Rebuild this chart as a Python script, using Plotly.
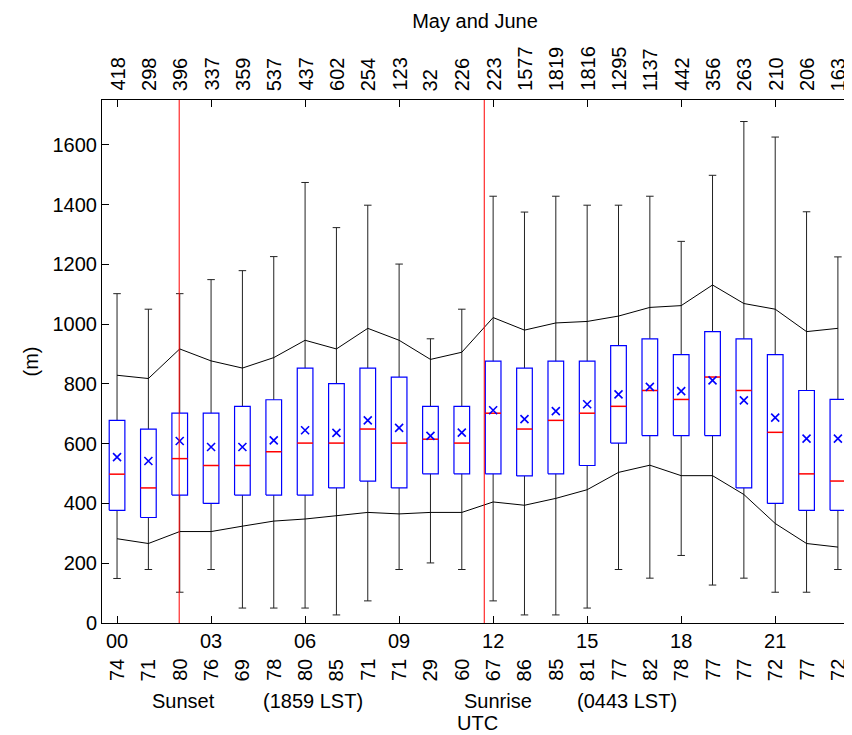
import plotly.graph_objects as go

hours = list(range(24))
q1 = [377, 353, 428, 400, 428, 428, 428, 452, 475, 452, 499, 499, 499, 492, 499, 527, 602, 627, 627, 627, 452, 400, 377, 377]
median = [498, 452, 550, 527, 527, 573, 602, 602, 649, 602, 615, 602, 702, 649, 678, 702, 725, 778, 748, 823, 778, 638, 499, 475]
q3 = [678, 649, 702, 702, 725, 747, 853, 801, 853, 823, 725, 725, 876, 853, 876, 876, 928, 951, 898, 975, 951, 898, 778, 748]
means = [555, 542, 609, 589, 589, 611, 645, 636, 678, 653, 626, 637, 712, 682, 709, 732, 765, 790, 776, 812, 745, 687, 617, 617]
whisk_lo = [149, 179, 103, 179, 50, 50, 50, 27, 74, 179, 201, 179, 74, 27, 27, 50, 179, 150, 226, 127, 150, 103, 103, 179]
whisk_hi = [1102, 1050, 1102, 1149, 1179, 1226, 1474, 1323, 1398, 1201, 951, 1050, 1428, 1375, 1428, 1398, 1398, 1428, 1277, 1498, 1678, 1626, 1376, 1225]
upper_line = [829, 818, 917, 877, 853, 888, 946, 917, 986, 946, 882, 906, 1022, 980, 1004, 1009, 1027, 1056, 1062, 1131, 1069, 1050, 975, 986]
lower_line = [282, 266, 306, 306, 324, 341, 348, 358, 370, 365, 370, 370, 405, 394, 417, 446, 504, 528, 493, 493, 430, 333, 266, 254]
top_counts = [418, 298, 396, 337, 359, 537, 437, 602, 254, 123, 32, 226, 223, 1577, 1819, 1816, 1295, 1137, 442, 356, 263, 210, 206, 163]
bottom_counts = [74, 71, 80, 76, 69, 78, 80, 85, 71, 71, 29, 60, 67, 86, 85, 81, 77, 82, 78, 77, 77, 72, 77, 72]
tick_hours = [0, 3, 6, 9, 12, 15, 18, 21]
tick_labels = ["00", "03", "06", "09", "12", "15", "18", "21"]
y_ticks = [0, 200, 400, 600, 800, 1000, 1200, 1400, 1600]
utc_offset = 7
sunset_lst = 18 + 59 / 60
sunrise_lst = 4 + 43 / 60
event_lines = [(sunset_lst + utc_offset) % 24, (sunrise_lst + utc_offset) % 24]

FONT = "Liberation Sans, Arial, Helvetica, sans-serif"
BW = 0.25   # half box width
CW = 0.12   # half cap width

fig = go.Figure()

# whiskers
wx, wy = [], []
for h, lo, a, b, hi in zip(hours, whisk_lo, q1, q3, whisk_hi):
    wx += [h, h, None, h, h, None, h - CW, h + CW, None, h - CW, h + CW, None]
    wy += [lo, a, None, b, hi, None, lo, lo, None, hi, hi, None]
fig.add_trace(go.Scatter(x=wx, y=wy, mode="lines", line=dict(color="#222222", width=1),
                         hoverinfo="skip", showlegend=False))

# upper / lower lines
fig.add_trace(go.Scatter(x=hours, y=upper_line, mode="lines", line=dict(color="black", width=1),
                         showlegend=False))
fig.add_trace(go.Scatter(x=hours, y=lower_line, mode="lines", line=dict(color="black", width=1),
                         showlegend=False))

# boxes
bx, by = [], []
for h, a, b in zip(hours, q1, q3):
    bx += [h - BW, h + BW, h + BW, h - BW, h - BW, None]
    by += [a, a, b, b, a, None]
fig.add_trace(go.Scatter(x=bx, y=by, mode="lines", line=dict(color="#0000ff", width=1.2),
                         hoverinfo="skip", showlegend=False))

# medians
mx, my = [], []
for h, m in zip(hours, median):
    mx += [h - BW, h + BW, None]
    my += [m, m, None]
fig.add_trace(go.Scatter(x=mx, y=my, mode="lines", line=dict(color="#ff0000", width=1.5),
                         hoverinfo="skip", showlegend=False))

# means
fig.add_trace(go.Scatter(x=hours, y=means, mode="markers",
                         marker=dict(symbol="x-thin-open", size=8, color="#0000ff",
                                     line=dict(color="#0000ff", width=1.6)),
                         showlegend=False))

# sunset / sunrise lines
for xv in event_lines:
    fig.add_shape(type="line", x0=xv, x1=xv, y0=0, y1=1, xref="x", yref="paper",
                  line=dict(color="#ff0000", width=1))

ann = []
for h, c in zip(hours, top_counts):
    ann.append(dict(x=h, y=1, xref="x", yref="paper", text=str(c), textangle=-90,
                    showarrow=False, xanchor="center", yanchor="bottom", yshift=7,
                    font=dict(size=20, color="black", family=FONT)))
for h, c in zip(hours, bottom_counts):
    ann.append(dict(x=h, y=0, xref="x", yref="paper", text=str(c), textangle=-90,
                    showarrow=False, xanchor="center", yanchor="top", yshift=-34,
                    font=dict(size=20, color="black", family=FONT)))
extra = [("Sunset", 2.12, -78), ("(1859 LST)", 6.24, -78), ("Sunrise", 12.16, -78),
         ("(0443 LST)", 16.26, -78), ("UTC", 11.5, -100)]
for t, xv, ys in extra:
    ann.append(dict(x=xv, y=0, xref="x", yref="paper", text=t, showarrow=False,
                    xanchor="center", yanchor="middle", yshift=ys,
                    font=dict(size=20, color="black", family=FONT)))
ann.append(dict(x=-0.096, y=0.5, xref="paper", yref="paper", text="(m)", textangle=-90,
                showarrow=False, xanchor="center", yanchor="middle",
                font=dict(size=20, color="black", family=FONT)))

fig.update_layout(
    width=844, height=727,
    margin=dict(l=94, r=0, t=92, b=112),
    paper_bgcolor="white", plot_bgcolor="white",
    font=dict(family=FONT, size=20, color="black"),
    title=dict(text="May and June", x=467 / 844, xref="container", y=1 - 13 / 727,
               yref="container", xanchor="center", yanchor="middle",
               font=dict(size=20, family=FONT, color="black")),
    annotations=ann,
    xaxis=dict(range=[-0.48, 23.45], tickvals=tick_hours, ticktext=tick_labels,
               ticks="inside", ticklen=7, tickcolor="black", showline=True, linecolor="black",
               linewidth=1, mirror="ticks", showgrid=False, zeroline=False,
               tickfont=dict(size=20, family=FONT, color="black")),
    yaxis=dict(range=[0, 1750], tickvals=y_ticks, ticks="inside", ticklen=7, tickcolor="black",
               showline=True, linecolor="black", linewidth=1, mirror="ticks",
               showgrid=False, zeroline=False,
               tickfont=dict(size=20, family=FONT, color="black")),
)

fig.write_html("out.html")
